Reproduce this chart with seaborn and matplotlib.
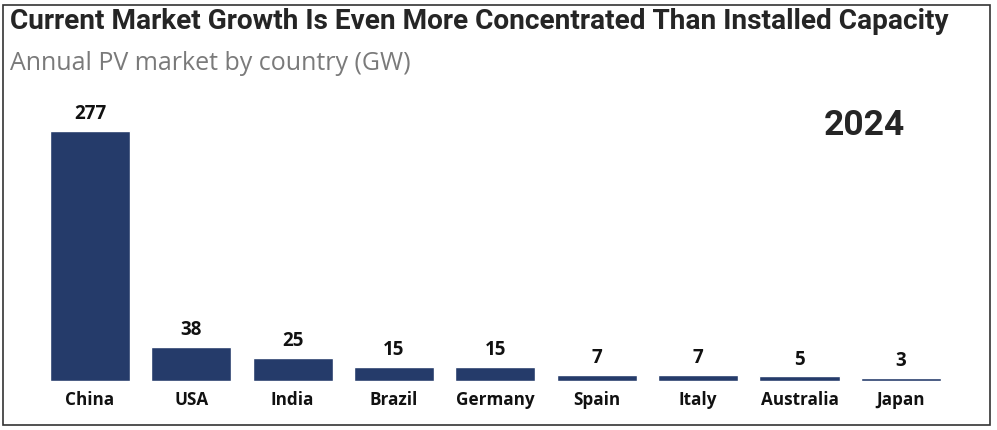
import matplotlib
matplotlib.use("Agg")
import matplotlib.pyplot as plt
import seaborn as sns
import pandas as pd
from matplotlib.patches import Rectangle


# Chart data
COUNTRIES = ["China", "USA", "India", "Brazil", "Germany", "Spain", "Italy", "Australia", "Japan"]
MARKET_GW = [277, 38, 25, 15, 15, 7, 7, 5, 3]
YEAR_LABEL = "2024"
TITLE = "Current Market Growth Is Even More Concentrated Than Installed Capacity"
SUBTITLE = "Annual PV market by country (GW)"
BAR_COLOR = "#253B6A"


def main():
    sns.set_theme(style="white")
    plt.rcParams["font.family"] = ["Open Sans", "DejaVu Sans"]

    dataframe = pd.DataFrame({"country": COUNTRIES, "gw": MARKET_GW})

    fig = plt.figure(figsize=(9.97, 4.30), dpi=100)
    ax = fig.add_axes([0.0394, 0.114, 0.915, 0.677])

    sns.barplot(data=dataframe, x="country", y="gw", color=BAR_COLOR,
                width=0.79, saturation=1, ax=ax)

    # Value labels above bars
    for patch, value in zip(ax.patches, MARKET_GW):
        ax.annotate(str(value),
                    (patch.get_x() + patch.get_width() / 2, patch.get_height()),
                    xytext=(0, 5), textcoords="offset points",
                    ha="center", va="bottom", fontsize=13.5, fontweight="bold",
                    color="#111111")

    ax.set_ylim(0, 322)
    ax.set_xlim(-0.5, len(COUNTRIES) - 0.5)
    ax.set_xlabel("")
    ax.set_ylabel("")
    ax.set_yticks([])
    ax.tick_params(axis="x", length=0, pad=7)
    for label in ax.get_xticklabels():
        label.set_fontweight("bold")
        label.set_fontsize(12.3)
        label.set_color("#111111")
    sns.despine(ax=ax, left=True, bottom=True)

    ax.text(0.949, 0.935, YEAR_LABEL, transform=ax.transAxes, ha="right", va="top",
            fontsize=25.5, fontweight="bold", color="#252525", family="Roboto")

    fig.text(0.010, 0.95, TITLE, ha="left", va="center", fontsize=20.2,
             fontweight="bold", color="#252525", family="Roboto")
    fig.text(0.010, 0.852, SUBTITLE, ha="left", va="center", fontsize=18,
             color="#7a7a7a")

    # Frame around the whole figure
    fig.patches.append(Rectangle((0.003, 0.012), 0.99, 0.976, transform=fig.transFigure,
                                 fill=False, edgecolor="#333333", linewidth=1.2))

    fig.savefig("out.png", dpi=100)


if __name__ == "__main__":
    main()
